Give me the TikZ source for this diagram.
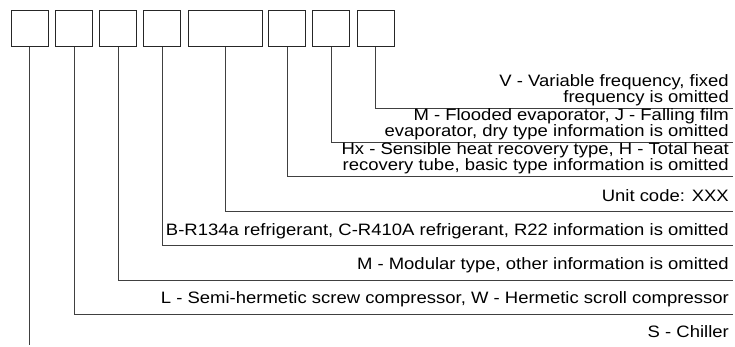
\documentclass[tikz,border=0pt]{standalone}
\usepackage{fontspec}
\setmainfont[FakeStretch=1.12]{Liberation Sans}
\usetikzlibrary{positioning}

\begin{document}
\begin{tikzpicture}[
    x=1pt, y=-1pt,
    % Code box style
    codebox/.style={
        rectangle,
        draw=black!85,
        line width=1pt,
        minimum width=37pt,
        minimum height=36.5pt,
        inner sep=0pt
    },
    % Wide code box
    widebox/.style={
        codebox,
        minimum width=74pt
    },
    % Description text
    desc/.style={
        font=\fontsize{16.5}{13.5}\selectfont,
        align=right,
        inner sep=0pt,
        anchor=base east
    },
    lead/.style={
        draw=black!75,
        line width=1pt
    }
]
\useasboundingbox (0,0) rectangle (735,347);

% === Code boxes ===
\node[codebox] (b1) at (29.5, 28.3) {};
\node[codebox] (b2) at (74, 28.3) {};
\node[codebox] (b3) at (118, 28.3) {};
\node[codebox] (b4) at (162, 28.3) {};
\node[widebox] (b5) at (225, 28.3) {};
\node[codebox] (b6) at (287, 28.3) {};
\node[codebox] (b7) at (331, 28.3) {};
\node[codebox] (b8) at (375.5, 28.3) {};

% === Line ends ===
\coordinate (e1) at (29.5, 345);
\coordinate (e2) at (733, 314);
\coordinate (e3) at (733, 280);
\coordinate (e4) at (733, 245);
\coordinate (e5) at (733, 212);
\coordinate (e6) at (733, 177);
\coordinate (e7) at (733, 143);
\coordinate (e8) at (733, 109);

% === Leader lines ===
\draw[lead] (b1.south) -- (e1);
\draw[lead] (b2.south) |- (e2);
\draw[lead] (b3.south) |- (e3);
\draw[lead] (b4.south) |- (e4);
\draw[lead] (b5.south) |- (e5);
\draw[lead] (b6.south) |- (e6);
\draw[lead] (b7.south) |- (e7);
\draw[lead] (b8.south) |- (e8);

% === Descriptions ===
\node[desc] (t8) at (729, 103) {V - Variable frequency, fixed\\frequency is omitted};
\node[desc] (t7) at (729, 137) {M - Flooded evaporator, J - Falling film\\evaporator, dry type information is omitted};
\node[desc] (t6) at (729, 171) {Hx - Sensible heat recovery type, H - Total heat\\recovery tube, basic type information is omitted};
\node[desc] (t5) at (729, 202) {Unit code: XXX};
\node[desc] (t4) at (729, 235) {B-R134a refrigerant, C-R410A refrigerant, R22 information is omitted};
\node[desc] (t3) at (729, 269) {M - Modular type, other information is omitted};
\node[desc] (t2) at (729, 303) {L - Semi-hermetic screw compressor, W - Hermetic scroll compressor};
\node[desc] (t1) at (729, 337) {S - Chiller};

\end{tikzpicture}
\end{document}
